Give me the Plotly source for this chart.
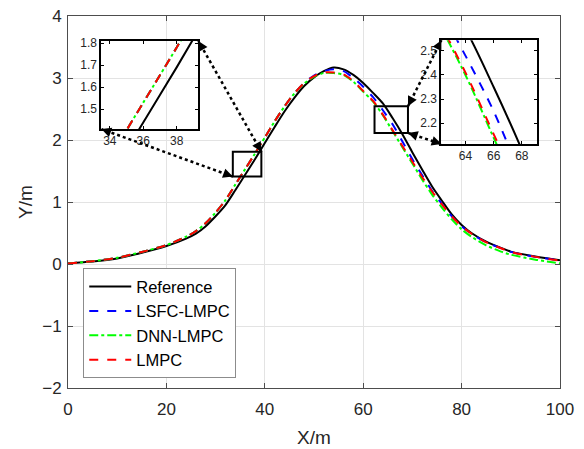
import plotly.graph_objects as go

# ---------------- data ----------------
x = [0, 5, 10, 15, 20, 24, 26, 28, 30, 32, 34, 36, 38, 40, 42, 44, 46, 48, 50, 52,
     54, 56, 58, 60, 62, 64, 66, 68, 70, 72, 74, 76, 78, 80, 82, 85, 88, 90, 95, 100]
y_reference = [0.01, 0.04, 0.09, 0.18, 0.29, 0.41, 0.49, 0.61, 0.77, 0.95, 1.19, 1.44, 1.69, 1.95,
               2.21, 2.46, 2.68, 2.87, 3.01, 3.11, 3.17, 3.14, 3.05, 2.92, 2.76, 2.59, 2.35, 2.09,
               1.80, 1.52, 1.25, 1.02, 0.80, 0.63, 0.50, 0.36, 0.26, 0.20, 0.12, 0.06]
y_lsfc = [0.01, 0.045, 0.10, 0.195, 0.305, 0.44, 0.53, 0.66, 0.83, 1.03, 1.28, 1.53, 1.78, 2.04,
          2.30, 2.54, 2.75, 2.92, 3.04, 3.11, 3.14, 3.11, 3.00, 2.86, 2.69, 2.48, 2.25, 1.97,
          1.69, 1.43, 1.18, 0.97, 0.77, 0.61, 0.49, 0.35, 0.255, 0.195, 0.115, 0.058]
y_dnn = [0.01, 0.045, 0.10, 0.195, 0.305, 0.44, 0.53, 0.66, 0.83, 1.03, 1.28, 1.53, 1.78, 2.04,
         2.30, 2.54, 2.75, 2.91, 3.02, 3.08, 3.08, 3.05, 2.94, 2.78, 2.62, 2.40, 2.14, 1.88,
         1.62, 1.36, 1.12, 0.91, 0.72, 0.56, 0.44, 0.30, 0.20, 0.15, 0.07, 0.01]
y_lmpc = [0.01, 0.045, 0.10, 0.195, 0.305, 0.44, 0.53, 0.66, 0.83, 1.03, 1.28, 1.53, 1.78, 2.04,
          2.30, 2.54, 2.75, 2.92, 3.03, 3.09, 3.09, 3.06, 2.95, 2.79, 2.63, 2.41, 2.155, 1.90,
          1.65, 1.40, 1.17, 0.96, 0.77, 0.61, 0.49, 0.35, 0.255, 0.195, 0.115, 0.055]

series_names = ["Reference", "LSFC-LMPC", "DNN-LMPC", "LMPC"]
series_values = [y_reference, y_lsfc, y_dnn, y_lmpc]
series_colors = ["#000000", "#0000ff", "#00ff00", "#ff0000"]
series_dash = ["solid", "dash", "dashdot", "dash"]

x_ticks = [0, 20, 40, 60, 80, 100]
y_ticks = [-2, -1, 0, 1, 2, 3, 4]
x_range = [0, 100]
y_range = [-2, 4]

inset1_x = [33.5, 39.3]
inset1_y = [1.41, 1.81]
inset1_xticks = [34, 36, 38]
inset1_yticks = [1.5, 1.6, 1.7, 1.8]
inset2_x = [62.3, 69.1]
inset2_y = [2.114, 2.544]
inset2_xticks = [64, 66, 68]
inset2_yticks = [2.2, 2.3, 2.4, 2.5]

# ---------------- layout geometry ----------------
W, H = 584, 449
ML, MR, MT, MB = 68, 24, 16, 61
PW, PH = W - ML - MR, H - MT - MB
inset1_dom_x = [0.068, 0.265]
inset1_dom_y = [0.696, 0.933]
inset2_dom_x = [0.759, 0.954]
inset2_dom_y = [0.656, 0.935]

FONT = "Liberation Sans, Arial, sans-serif"
TXT = "#262626"
AX = "#4d4d4d"

fig = go.Figure()
for axes, show in [(("x", "y"), True), (("x2", "y2"), False), (("x3", "y3"), False)]:
    for name, vals, col, dash in zip(series_names, series_values, series_colors, series_dash):
        fig.add_trace(go.Scatter(
            x=x, y=vals, mode="lines", name=name, xaxis=axes[0], yaxis=axes[1],
            line=dict(color=col, width=2, dash=dash, shape="spline", smoothing=0.8),
            showlegend=show, legendgroup=name, hoverinfo="skip"))

main_axis = dict(showline=True, linecolor=AX, linewidth=1, mirror="ticks",
                 ticks="inside", ticklen=5, tickcolor=AX, showgrid=True,
                 gridcolor="#e3e3e3", gridwidth=1, zeroline=False,
                 tickfont=dict(family=FONT, size=17, color=TXT))
inset_axis = dict(showline=True, linecolor="#000000", linewidth=2, mirror="ticks",
                  ticks="inside", ticklen=3, tickcolor="#000000", showgrid=False,
                  zeroline=False, tickfont=dict(family=FONT, size=12, color=TXT))

fig.update_layout(
    width=W, height=H,
    margin=dict(l=ML, r=MR, t=MT, b=MB, autoexpand=False),
    paper_bgcolor="white", plot_bgcolor="rgba(0,0,0,0)",
    font=dict(family=FONT, color=TXT),
    xaxis=dict(main_axis, range=x_range, tickvals=x_ticks, domain=[0, 1],
               ticklabelstandoff=6,
               title=dict(text="X/m", font=dict(size=19, color=TXT), standoff=12)),
    yaxis=dict(main_axis, range=y_range, tickvals=y_ticks, domain=[0, 1],
               ticklabelstandoff=2,
               title=dict(text="Y/m", font=dict(size=19, color=TXT), standoff=4)),
    xaxis2=dict(inset_axis, range=inset1_x, tickvals=inset1_xticks, domain=inset1_dom_x,
                anchor="y2"),
    yaxis2=dict(inset_axis, range=inset1_y, tickvals=inset1_yticks, domain=inset1_dom_y,
                anchor="x2"),
    xaxis3=dict(inset_axis, range=inset2_x, tickvals=inset2_xticks, domain=inset2_dom_x,
                anchor="y3"),
    yaxis3=dict(inset_axis, range=inset2_y, tickvals=inset2_yticks, domain=inset2_dom_y,
                anchor="x3"),
    legend=dict(x=0.031, y=0.322, xanchor="left", yanchor="top",
                bgcolor="white", bordercolor="#8c8c8c", borderwidth=1,
                font=dict(family=FONT, size=16.5, color="#000000"),
                tracegroupgap=0, itemwidth=42),
    showlegend=True,
)

# zoom boxes in main axes
for xr, yr in [(inset1_x, inset1_y), (inset2_x, inset2_y)]:
    fig.add_shape(type="rect", xref="x", yref="y", x0=xr[0], x1=xr[1], y0=yr[0], y1=yr[1],
                  line=dict(color="black", width=2))

def to_paper(px, py):
    return ((px - x_range[0]) / (x_range[1] - x_range[0]),
            (py - y_range[0]) / (y_range[1] - y_range[0]))

b1_tr = to_paper(inset1_x[1], inset1_y[1])
b1_bl = to_paper(inset1_x[0], inset1_y[0])
b2_tr = to_paper(inset2_x[1], inset2_y[1])
b2_br = to_paper(inset2_x[1], inset2_y[0])
connectors = [
    (b1_tr, (inset1_dom_x[1], inset1_dom_y[1])),
    (b1_bl, (inset1_dom_x[0], inset1_dom_y[0])),
    (b2_tr, (inset2_dom_x[0], inset2_dom_y[1])),
    (b2_br, (inset2_dom_x[0], inset2_dom_y[0])),
]

def head(tip, tail):
    dx = (tip[0] - tail[0]) * PW
    dy = -(tip[1] - tail[1]) * PH
    n = (dx * dx + dy * dy) ** 0.5
    fig.add_annotation(x=tip[0], y=tip[1], xref="paper", yref="paper",
                       ax=-dx / n * 9, ay=-dy / n * 9, axref="pixel", ayref="pixel",
                       text="", showarrow=True, arrowhead=2, arrowsize=1.3,
                       arrowwidth=1.5, arrowcolor="black")

for p0, p1 in connectors:
    fig.add_shape(type="line", xref="paper", yref="paper", x0=p0[0], y0=p0[1],
                  x1=p1[0], y1=p1[1], line=dict(color="black", width=2.5, dash="dot"))
    head(p1, p0)
    head(p0, p1)

fig.write_html("out.html")
